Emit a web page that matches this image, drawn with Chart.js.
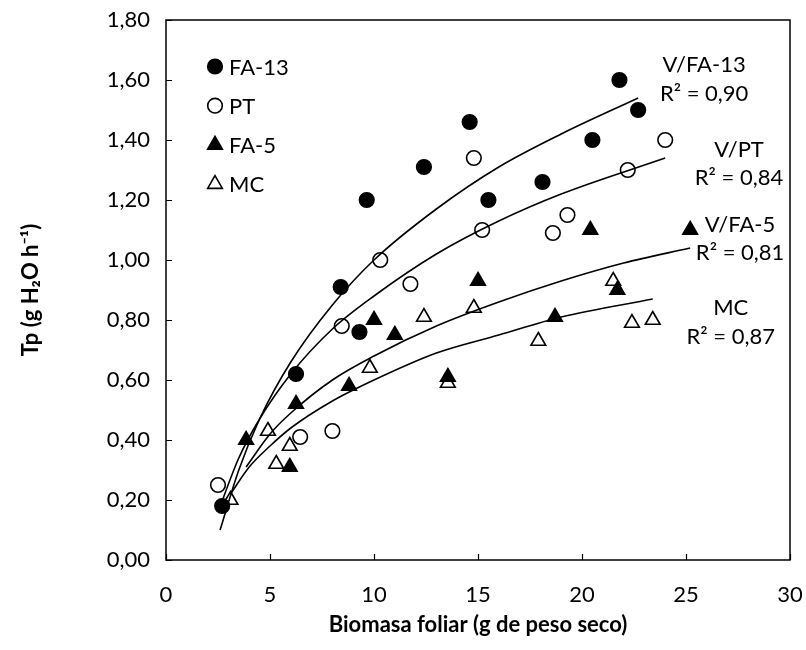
<!DOCTYPE html>
<html>
<head>
<meta charset="utf-8">
<script src="https://cdn.jsdelivr.net/npm/chart.js@4.4.1/dist/chart.umd.min.js"></script>
<style>
  html, body { margin: 0; padding: 0; background: #fff; }
  #wrap { width: 806px; height: 650px; }
</style>
</head>
<body>
<div id="wrap"><canvas id="tpChart" width="806" height="650"></canvas></div>
<script>
// measured points (biomasa foliar, Tp)
const fa13X = [2.7, 6.25, 8.4, 9.3, 9.65, 12.4, 14.6, 15.5, 18.1, 20.5, 21.8, 22.7];
const fa13Y = [0.18, 0.62, 0.91, 0.76, 1.20, 1.31, 1.46, 1.20, 1.26, 1.40, 1.60, 1.50];
const ptX = [2.5, 6.45, 8.0, 8.45, 10.3, 11.75, 14.8, 15.2, 18.6, 19.3, 22.2, 24.0];
const ptY = [0.25, 0.41, 0.43, 0.78, 1.00, 0.92, 1.34, 1.10, 1.09, 1.15, 1.30, 1.40];
const fa5X = [3.85, 5.95, 6.25, 8.8, 10.0, 11.0, 13.55, 15.0, 18.7, 20.4, 21.7, 25.2];
const fa5Y = [0.40, 0.31, 0.52, 0.58, 0.80, 0.75, 0.61, 0.93, 0.81, 1.10, 0.90, 1.10];
const mcX = [3.1, 4.9, 5.3, 5.95, 9.8, 12.4, 13.55, 14.8, 17.9, 21.5, 22.4, 23.4];
const mcY = [0.20, 0.43, 0.32, 0.38, 0.64, 0.81, 0.59, 0.84, 0.73, 0.93, 0.79, 0.80];

// trend curves
const fa13TrendX = [2.6, 3.5, 4.5, 6, 8, 10, 13, 16, 19, 22.7];
const fa13TrendY = [0.10, 0.30, 0.47, 0.66, 0.85, 1.00, 1.17, 1.31, 1.42, 1.54];
const ptTrendX = [2.5, 3.5, 4.5, 6, 8, 10, 13, 16, 19, 24];
const ptTrendY = [0.16, 0.34, 0.47, 0.62, 0.77, 0.88, 1.02, 1.13, 1.22, 1.34];
const fa5TrendX = [3.85, 5, 6, 8, 10, 13, 16, 19, 22, 25.2];
const fa5TrendY = [0.31, 0.42, 0.49, 0.60, 0.68, 0.78, 0.86, 0.93, 0.99, 1.04];
const mcTrendX = [3.1, 4, 5, 6, 8, 10, 13, 16, 19, 23.4];
const mcTrendY = [0.22, 0.31, 0.38, 0.44, 0.53, 0.60, 0.69, 0.75, 0.81, 0.87];

const seriesNames = ["FA-13", "PT", "FA-5", "MC"];
const trendNames = ["V/FA-13", "V/PT", "V/FA-5", "MC"];
const r2Values = ["0,90", "0,84", "0,81", "0,87"];

const xTicks = [0, 5, 10, 15, 20, 25, 30];
const yTickStep = 0.2;

const FONT = "Lato, 'Open Sans', sans-serif";

function pairs(xs, ys) {
  return xs.map((x, i) => ({ x: x, y: ys[i] }));
}

function trendSet(name, xs, ys) {
  return {
    label: name,
    trend: true,
    data: pairs(xs, ys),
    showLine: true,
    borderColor: "#000",
    borderWidth: 1.6,
    pointRadius: 0,
    cubicInterpolationMode: "monotone",
    fill: false,
  };
}

function pointSet(name, xs, ys, style, filled) {
  return {
    label: name,
    data: pairs(xs, ys),
    pointStyle: style,
    pointRadius: style === "triangle" ? 8.5 : 7.3,
    pointBorderWidth: 1.6,
    pointBorderColor: "#000",
    pointBackgroundColor: filled ? "#000" : "#fff",
    borderColor: "#000",
    backgroundColor: filled ? "#000" : "#fff",
    showLine: false,
  };
}

// text positions of the trend labels, in data units
const trendLabelPos = [
  { x: 25.87, y1: 1.65, y2: 1.553 },
  { x: 27.55, y1: 1.367, y2: 1.273 },
  { x: 27.6, y1: 1.117, y2: 1.023 },
  { x: 27.15, y1: 0.84, y2: 0.743 },
];

const framePlugin = {
  id: "frame",
  afterDatasetsDraw(chart) {
    const { ctx, chartArea, scales } = chart;
    ctx.save();
    ctx.strokeStyle = "#000";
    ctx.lineWidth = 1.5;
    ctx.strokeRect(chartArea.left, chartArea.top, chartArea.right - chartArea.left, chartArea.bottom - chartArea.top);
    ctx.lineWidth = 1.2;
    ctx.beginPath();
    scales.x.ticks.forEach((t) => {
      const px = Math.round(scales.x.getPixelForValue(t.value)) + 0.5;
      ctx.moveTo(px, chartArea.bottom);
      ctx.lineTo(px, chartArea.bottom - 6);
    });
    scales.y.ticks.forEach((t) => {
      const py = Math.round(scales.y.getPixelForValue(t.value)) + 0.5;
      ctx.moveTo(chartArea.left, py);
      ctx.lineTo(chartArea.left + 6, py);
    });
    ctx.stroke();
    ctx.restore();
  },
};

const labelsPlugin = {
  id: "labels",
  afterDraw(chart) {
    const { ctx, chartArea, scales } = chart;
    ctx.save();
    ctx.fillStyle = "#000";
    ctx.font = "22px " + FONT;
    ctx.textBaseline = "middle";

    // trend labels
    ctx.textAlign = "center";
    trendLabelPos.forEach((p, i) => {
      const px = scales.x.getPixelForValue(p.x);
      ctx.fillText(trendNames[i], px, scales.y.getPixelForValue(p.y1));
      ctx.fillText("R\u00B2 = " + r2Values[i], px, scales.y.getPixelForValue(p.y2));
    });

    // legend in the upper-left corner of the plot
    const pointSets = chart.data.datasets.filter((d) => !d.trend);
    ctx.textAlign = "left";
    pointSets.forEach((d, i) => {
      const mx = chartArea.left + 49;
      const my = chartArea.top + 46.5 + i * 39.2;
      ctx.fillStyle = d.pointBackgroundColor;
      ctx.strokeStyle = "#000";
      ctx.lineWidth = d.pointBorderWidth;
      Chart.helpers.drawPoint(ctx, { pointStyle: d.pointStyle, radius: d.pointRadius, borderWidth: d.pointBorderWidth, rotation: 0 }, mx, my);
      ctx.fillStyle = "#000";
      ctx.fillText(d.label, mx + 14, my + 1);
    });
    ctx.restore();
  },
};

// invisible tick marks only push the labels away from the axis
const hiddenTicks = (len) => ({
  display: true,
  drawOnChartArea: false,
  drawTicks: true,
  tickLength: len,
  tickColor: "rgba(0,0,0,0)",
});

const chart = new Chart(document.getElementById("tpChart").getContext("2d"), {
  type: "scatter",
  data: {
    datasets: [
      trendSet(trendNames[0], fa13TrendX, fa13TrendY),
      trendSet(trendNames[1], ptTrendX, ptTrendY),
      trendSet(trendNames[2], fa5TrendX, fa5TrendY),
      trendSet(trendNames[3], mcTrendX, mcTrendY),
      pointSet(seriesNames[0], fa13X, fa13Y, "circle", true),
      pointSet(seriesNames[1], ptX, ptY, "circle", false),
      pointSet(seriesNames[2], fa5X, fa5Y, "triangle", true),
      pointSet(seriesNames[3], mcX, mcY, "triangle", false),
    ],
  },
  options: {
    responsive: false,
    animation: false,
    devicePixelRatio: 1,
    layout: { padding: { top: 20, right: 16, left: 0, bottom: 0 } },
    plugins: {
      legend: { display: false },
      tooltip: { enabled: false },
    },
    scales: {
      x: {
        type: "linear",
        min: 0,
        max: 30,
        afterBuildTicks: (scale) => {
          scale.ticks = xTicks.map((v) => ({ value: v }));
        },
        afterFit: (scale) => {
          scale.height = 90;
        },
        grid: hiddenTicks(20),
        border: { display: false },
        ticks: {
          color: "#000",
          padding: 2,
          font: { family: FONT, size: 22 },
        },
        title: {
          display: true,
          text: "Biomasa foliar (g de peso seco)",
          color: "#000",
          font: { family: FONT, size: 22, weight: "bold" },
          padding: { top: 0, bottom: 12 },
        },
      },
      y: {
        type: "linear",
        min: 0,
        max: 1.8,
        ticks: {
          stepSize: yTickStep,
          color: "#000",
          padding: 3,
          font: { family: FONT, size: 22 },
          callback: (v) => v.toFixed(2).replace(".", ","),
        },
        afterFit: (scale) => {
          scale.width = 166;
        },
        grid: hiddenTicks(13),
        border: { display: false },
        title: {
          display: true,
          text: "Tp (g H\u2082O h\u207B\u00B9)",
          color: "#000",
          font: { family: FONT, size: 22, weight: "bold" },
          padding: { top: 18, bottom: 0 },
        },
      },
    },
  },
  plugins: [framePlugin, labelsPlugin],
});
</script>
</body>
</html>
